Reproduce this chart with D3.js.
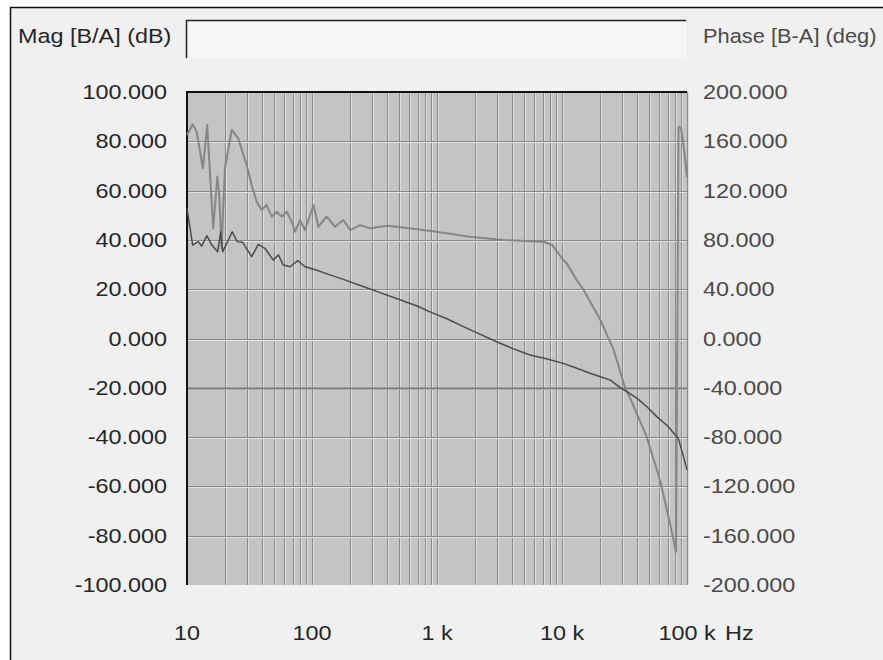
<!DOCTYPE html>
<html><head><meta charset="utf-8">
<script src="https://cdn.jsdelivr.net/npm/d3@7"></script>
<style>html,body{margin:0;padding:0;background:#fff;}svg{display:block;}</style>
</head><body>
<script>
// ---- data ----
const freqMag = [10, 11.1, 12.3, 13.1, 14.4, 15.8, 17.6, 18.6, 19.3, 20.8, 23.0, 25.2, 27.9, 32.9, 37.2, 42.0, 49.0, 53.8, 59.0, 66.7, 77, 88, 108, 139, 178, 250, 350, 500, 700, 879, 1200, 1624, 2200, 3006, 4000, 5546, 7500, 10240, 13000, 16750, 20000, 24210, 29800, 34000, 39900, 48000, 57300, 70000, 82600, 85200, 92000, 100000];
const magDb = [52.8, 37.9, 39.3, 37.5, 41.7, 37.9, 35.2, 43.3, 35.2, 38.6, 43.3, 39.3, 39.0, 33.2, 38.2, 36.6, 31.8, 33.9, 29.8, 29.1, 31.6, 29.1, 27.8, 25.8, 24.0, 21.3, 18.6, 15.8, 13.1, 10.8, 8.0, 4.8, 1.8, -1.3, -4.0, -6.7, -8.2, -10.1, -12.0, -14.1, -15.4, -16.8, -20.2, -22.0, -24.3, -27.8, -31.7, -35.5, -39.8, -40.5, -46.5, -53.3];
const freqPh = [10, 11.1, 11.95, 13.4, 14.5, 16.2, 17.5, 18.1, 18.9, 20.1, 22.8, 25.7, 30, 32.9, 36.1, 39.6, 43.4, 47.6, 52.2, 57.3, 62.8, 68.8, 73.3, 80.1, 87.9, 102.7, 112.6, 131, 152.6, 178, 202, 242, 291, 400, 535, 991, 1833, 3387, 7143, 8326, 10240, 10900, 13100, 14900, 20300, 25900, 31800, 36000, 47600, 60800, 73100, 81700, 85500, 90000, 95000, 100000];
const phaseDeg = [165.1, 173.8, 167.8, 138.1, 173.2, 89.4, 131.3, 116.4, 73.2, 138.1, 169.2, 162.4, 140.8, 124.5, 111.0, 104.3, 108.3, 98.8, 102.9, 98.8, 102.9, 94.8, 86.7, 96.1, 88.0, 108.3, 90.7, 98.8, 90.7, 96.1, 88.0, 92.0, 89.5, 91.5, 90.0, 86.7, 82.6, 79.9, 78.5, 75.9, 63.7, 61.0, 47.5, 39.4, 15.0, -9.3, -39.1, -51.0, -79.7, -114.8, -150, -173, 172, 170, 152, 131];
const magTicks = [100, 80, 60, 40, 20, 0, -20, -40, -60, -80, -100];
const phaseTicks = [200, 160, 120, 80, 40, 0, -40, -80, -120, -160, -200];
const freqTicks = [10, 100, 1000, 10000, 100000];
const freqLabels = ["10", "100", "1 k", "10 k", "100 k"];
const magTitle = "Mag [B/A] (dB)";
const phaseTitle = "Phase [B-A] (deg)";
const unitLabel = "Hz";

// ---- layout ----
const W = 883, H = 660;
const L = 187, R = 687, T = 92, B = 585;
const FONT = "'Liberation Sans', Arial, sans-serif";
const FS = 19.5, SX = 1.2;

const svg = d3.select("body").append("svg").attr("width", W).attr("height", H);

// frame
svg.append("rect").attr("x", 10).attr("y", 7).attr("width", W - 10).attr("height", H - 7).attr("fill", "#f0f0f0");
svg.append("line").attr("x1", 10).attr("x2", W).attr("y1", 7.5).attr("y2", 7.5).attr("stroke", "#111").attr("stroke-width", 1.5);
svg.append("line").attr("x1", 10.5).attr("x2", 10.5).attr("y1", 7).attr("y2", H).attr("stroke", "#111").attr("stroke-width", 1.5);

// header box
svg.append("rect").attr("x", 186).attr("y", 20).attr("width", 500).attr("height", 38).attr("fill", "#f6f6f6");
svg.append("path").attr("d", "M186.5,58 V20.5 H686").attr("fill", "none").attr("stroke", "#222").attr("stroke-width", 1.5);

const x = d3.scaleLog().domain([10, 100000]).range([L, R]);
const yMag = d3.scaleLinear().domain([-100, 100]).range([B, T]);
const yPh = d3.scaleLinear().domain([-200, 200]).range([B, T]);

// plot background
svg.append("rect").attr("x", 186).attr("y", T).attr("width", R - 186).attr("height", B - T).attr("fill", "#c4c4c4");

// vertical grid
const minor = [];
for (let e = 1; e <= 4; e++) for (let n = 1; n <= 9; n++) minor.push(n * Math.pow(10, e));
minor.push(100000);
const grid = svg.append("g");
grid.selectAll("line.vl").data(minor.filter(f => f > 10)).join("line")
  .attr("x1", d => Math.round(x(d)) + 1.5).attr("x2", d => Math.round(x(d)) + 1.5)
  .attr("y1", T).attr("y2", B).attr("stroke", "#dedede").attr("stroke-width", 1);
grid.selectAll("line.v").data(minor.filter(f => f > 10)).join("line")
  .attr("x1", d => Math.round(x(d)) + 0.5).attr("x2", d => Math.round(x(d)) + 0.5)
  .attr("y1", T).attr("y2", B).attr("stroke", "#8a8a8a").attr("stroke-width", 1);

// horizontal grid
const hg = magTicks.filter(v => v < 100 && v > -100);
grid.selectAll("line.hl").data(hg).join("line")
  .attr("x1", 186).attr("x2", R).attr("y1", d => Math.round(yMag(d)) + 1.5).attr("y2", d => Math.round(yMag(d)) + 1.5)
  .attr("stroke", "#e4e4e4").attr("stroke-width", 1);
grid.selectAll("line.h").data(hg).join("line")
  .attr("x1", 186).attr("x2", R).attr("y1", d => Math.round(yMag(d)) + 0.5).attr("y2", d => Math.round(yMag(d)) + 0.5)
  .attr("stroke", d => d === -20 ? "#7a7a7a" : "#8a8a8a").attr("stroke-width", d => d === -20 ? 2 : 1);

// plot border (top + left)
svg.append("path").attr("d", `M187,${B} V${T} H${R}`).attr("fill", "none").attr("stroke", "#111").attr("stroke-width", 2);

// curves
const magLine = d3.line().x((d, i) => x(freqMag[i])).y(d => yMag(d));
const phLine = d3.line().x((d, i) => x(freqPh[i])).y(d => yPh(d));
svg.append("path").attr("d", phLine(phaseDeg)).attr("fill", "none").attr("stroke", "#868686").attr("stroke-width", 2).attr("stroke-linejoin", "round");
svg.append("path").attr("d", magLine(magDb)).attr("fill", "none").attr("stroke", "#4c4c4c").attr("stroke-width", 1.5).attr("stroke-linejoin", "round");

// text helper
function label(g, txt, anchor, fill, sx) {
  g.append("text").attr("transform", `scale(${sx || SX},1)`).attr("text-anchor", anchor)
    .attr("dy", "0.36em").attr("font-family", FONT).attr("font-size", FS).attr("fill", fill).text(txt);
}
const fmt = v => d3.format(".3f")(v).replace("\u2212", "-");
// left ticks
svg.append("g").selectAll("g").data(magTicks).join("g")
  .attr("transform", d => `translate(167,${yMag(d)})`)
  .each(function(d) { label(d3.select(this), fmt(d), "end", "#262626"); });
// right ticks
svg.append("g").selectAll("g").data(phaseTicks).join("g")
  .attr("transform", d => `translate(703,${yPh(d)})`)
  .each(function(d) { label(d3.select(this), fmt(d), "start", "#4a4a4a"); });
// bottom ticks
svg.append("g").selectAll("g").data(freqTicks).join("g")
  .attr("transform", d => `translate(${x(d)},633)`)
  .each(function(d, i) { label(d3.select(this), freqLabels[i], "middle", "#262626"); });
label(svg.append("g").attr("transform", "translate(725,633)"), unitLabel, "start", "#262626");
// titles
label(svg.append("g").attr("transform", "translate(18,36)"), magTitle, "start", "#262626");
label(svg.append("g").attr("transform", "translate(703,36)"), phaseTitle, "start", "#4a4a4a", 1.12);
</script>
</body></html>
